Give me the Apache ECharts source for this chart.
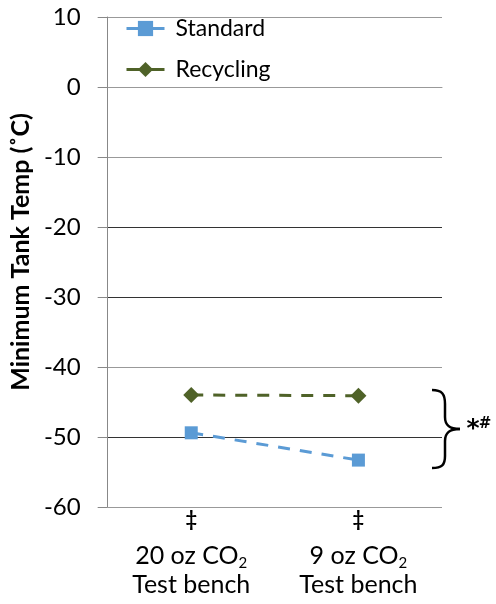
<!DOCTYPE html>
<html>
<head>
<meta charset="utf-8">
<script src="https://cdn.jsdelivr.net/npm/echarts@6/dist/echarts.min.js"></script>
<style>
html,body{margin:0;padding:0;background:#fff;}
#c{width:496px;height:604px;}
</style>
</head>
<body>
<div id="c"></div>
<script>
const categories = ['20 oz CO2 Test bench', '9 oz CO2 Test bench'];
const catLine1 = ['20 oz CO', '9 oz CO'];
const catSub = ['2', '2'];
const catLine2 = ['Test bench', 'Test bench'];
const catMarks = ['\u2021', '\u2021'];
const standard = [-49.4, -53.3];
const recycling = [-44.0, -44.1];
const yMin = -60, yMax = 10, yStep = 10;
const FONT = 'Lato';

const braceStyle = {stroke: '#000', lineWidth: 2.5, fill: null};
function bz(x1, y1, c1x, c1y, c2x, c2y, x2, y2) {
  return {type: 'bezierCurve', shape: {x1: x1, y1: y1, cpx1: c1x, cpy1: c1y, cpx2: c2x, cpy2: c2y, x2: x2, y2: y2}, style: braceStyle};
}
function ln(x1, y1, x2, y2) {
  return {type: 'line', shape: {x1: x1, y1: y1, x2: x2, y2: y2}, style: braceStyle};
}

const chart = echarts.init(document.getElementById('c'), null, {renderer: 'canvas'});
chart.setOption({
  animation: false,
  backgroundColor: '#fff',
  grid: {left: 107, right: 54, top: 17, bottom: 97},
  legend: {
    orient: 'vertical',
    left: 120, top: 12,
    itemWidth: 38, itemHeight: 19, itemGap: 18,
    data: ['Standard', 'Recycling'],
    lineStyle: {width: 3, type: 'solid'},
    textStyle: {fontFamily: FONT, fontSize: 23, color: '#000', padding: [0, 0, 0, 6]}
  },
  xAxis: {
    type: 'category',
    data: categories,
    boundaryGap: true,
    axisLine: {show: true, lineStyle: {color: '#999', width: 1}},
    axisTick: {show: false},
    axisLabel: {
      interval: 0,
      margin: -8,
      formatter: function (v, i) {
        return '{d|' + catMarks[i] + '}\n{t|' + catLine1[i] + '}{s|' + catSub[i] + '}\n{u|' + catLine2[i] + '}';
      },
      rich: {
        d: {fontFamily: FONT, fontSize: 20, color: '#000', lineHeight: 42, fontWeight: 'bold'},
        t: {fontFamily: FONT, fontSize: 25, color: '#000', lineHeight: 30},
        s: {fontFamily: FONT, fontSize: 15, color: '#000', lineHeight: 30, verticalAlign: 'bottom', padding: [15, 0, 0, 0]},
        u: {fontFamily: FONT, fontSize: 25, color: '#000', lineHeight: 28}
      }
    },
    splitLine: {show: false}
  },
  yAxis: {
    type: 'value',
    min: yMin, max: yMax, interval: yStep,
    name: 'Minimum Tank Temp (\u02DAC)',
    nameLocation: 'middle',
    nameGap: 72,
    nameTextStyle: {fontFamily: FONT, fontSize: 25, fontWeight: 'bold', color: '#000', padding: [0, 0, 0, 20]},
    axisLine: {show: true, lineStyle: {color: '#888', width: 1}},
    axisTick: {show: true, length: 10, lineStyle: {color: '#888'}},
    axisLabel: {fontFamily: FONT, fontSize: 24, color: '#000', margin: 27},
    splitLine: {show: true, lineStyle: {color: ['#999', '#333', '#999', '#333', '#333', '#999', '#333', '#999'], width: 1}}
  },
  series: [
    {
      name: 'Standard', type: 'line', data: standard,
      symbol: 'rect', symbolSize: 13,
      itemStyle: {color: '#5B9BD5'},
      lineStyle: {color: '#5B9BD5', width: 3, type: [12, 10]}
    },
    {
      name: 'Recycling', type: 'line', data: recycling,
      symbol: 'diamond', symbolSize: 16,
      itemStyle: {color: '#4F6228'},
      lineStyle: {color: '#4F6228', width: 3, type: [12, 10]}
    }
  ],
  graphic: [
    bz(432, 390, 442, 390, 445, 394, 445, 404),
    ln(445, 404, 445, 417),
    bz(445, 417, 445, 425, 449, 429, 460, 429),
    bz(460, 429, 449, 429, 445, 433, 445, 441),
    ln(445, 441, 445, 456),
    bz(445, 456, 445, 465, 442, 468, 432, 468),
    {
      type: 'text', x: 473, y: 429,
      style: {text: '*', fontFamily: 'DejaVu Sans', fontSize: 25, fontWeight: 'bold', fill: '#000', align: 'center', verticalAlign: 'middle'}
    },
    {
      type: 'text', x: 485, y: 424,
      style: {text: '#', fontFamily: 'DejaVu Sans', fontSize: 15, fontWeight: 'bold', fill: '#000', align: 'center', verticalAlign: 'middle'}
    }
  ]
});
</script>
</body>
</html>
